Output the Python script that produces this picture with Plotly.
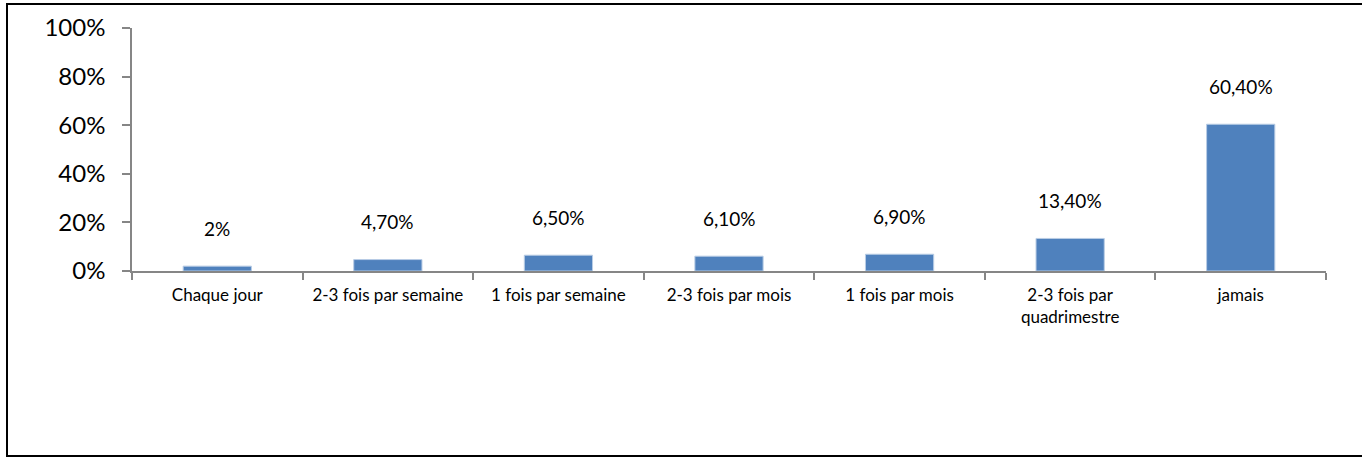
import plotly.graph_objects as go

categories = ["Chaque jour", "2-3 fois par semaine", "1 fois par semaine", "2-3 fois par mois",
              "1 fois par mois", "2-3 fois par<br>quadrimestre", "jamais"]
values = [0.02, 0.047, 0.065, 0.061, 0.069, 0.134, 0.604]
value_labels = ["2%", "4,70%", "6,50%", "6,10%", "6,90%", "13,40%", "60,40%"]
y_tickvals = [0, 0.2, 0.4, 0.6, 0.8, 1.0]
y_ticktext = ["0%", "20%", "40%", "60%", "80%", "100%"]

FONT = "Lato, Open Sans, sans-serif"

L, R_EDGE, T, B_EDGE = 132, 1326, 28, 271
W, H = 1362, 458
PW, PH = R_EDGE - L, B_EDGE - T

fig = go.Figure()
fig.add_trace(go.Bar(
    x=categories, y=values, width=0.4,
    marker=dict(color="#4F81BD", line=dict(color="#B9CDE5", width=1)),
    showlegend=False, hoverinfo="skip",
))

for c, v, t in zip(categories, values, value_labels):
    fig.add_annotation(x=c, y=v, text=t, showarrow=False, yshift=38,
                       font=dict(family=FONT, size=19, color="#000000"))

grey = "#868686"
fig.update_layout(
    width=W, height=H,
    margin=dict(l=L, r=W - R_EDGE, t=T, b=H - B_EDGE, pad=0),
    paper_bgcolor="white", plot_bgcolor="white",
    font=dict(family=FONT, color="#000000"),
    xaxis=dict(
        type="category", showline=True, linecolor=grey, linewidth=1.5,
        ticks="outside", tickson="boundaries", ticklen=7, tickcolor=grey, tickwidth=1.5,
        tickfont=dict(family=FONT, size=17, color="#000000"),
        ticklabelstandoff=8,
        showgrid=False, zeroline=False, range=[-0.5, 6.5],
    ),
    yaxis=dict(
        range=[0, 1], tickvals=y_tickvals, ticktext=y_ticktext,
        showline=True, linecolor=grey, linewidth=1.5,
        ticks="outside", ticklen=8, tickcolor=grey, tickwidth=1.5,
        tickfont=dict(family=FONT, size=24, color="#000000"),
        ticklabelstandoff=12,
        showgrid=False, zeroline=False,
    ),
    shapes=[dict(type="rect", xref="paper", yref="paper",
                 x0=(7 - L) / PW, x1=(1420 - L) / PW,
                 y0=(B_EDGE - 456) / PH, y1=(B_EDGE - 4) / PH,
                 line=dict(color="#000000", width=2), layer="above")],
)

fig.write_html("out.html", config={"displayModeBar": False},
               post_script="document.body.style.margin='0';document.body.style.overflow='hidden';")
